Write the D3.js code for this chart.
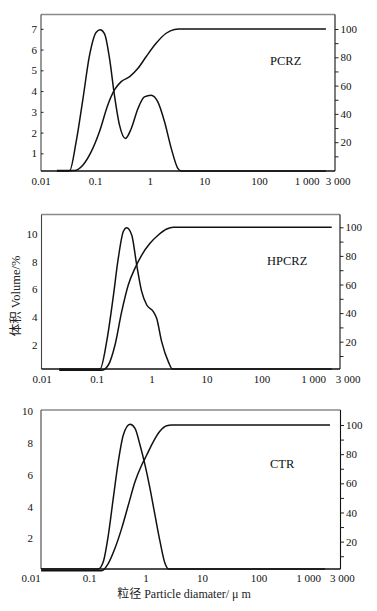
<!DOCTYPE html>
<html>
<head>
<meta charset="utf-8">
<script src="https://cdn.jsdelivr.net/npm/d3@7"></script>
<style>
body { margin: 0; background: #fff; }
svg { display: block; }
</style>
</head>
<body>
<div id="chart"></div>
<script>
// particle size distributions: frequency (volume %, left axis) + cumulative (%, right axis)
const pcrzFreqX = [0.02, 0.034, 0.045, 0.060, 0.079, 0.105, 0.124, 0.149, 0.184, 0.226, 0.28, 0.36, 0.46, 0.61, 0.80, 1.06, 1.41, 1.87, 2.48, 3.27, 3.78, 1690];
const pcrzFreqY = [0, 0, 1.56, 3.64, 5.72, 6.84, 6.95, 6.76, 5.56, 3.80, 2.36, 1.72, 2.20, 3.16, 3.72, 3.80, 3.48, 2.52, 1.24, 0.28, 0, 0];
const pcrzCumX = [0.02, 0.042, 0.060, 0.085, 0.12, 0.171, 0.226, 0.30, 0.43, 0.61, 0.86, 1.31, 2.0, 2.84, 3.4, 1690];
const pcrzCumY = [0, 0, 3.9, 13.3, 27.4, 46.3, 56.9, 62.8, 66.3, 72.2, 80.4, 89.9, 97.0, 99.7, 100, 100];

const hpcrzFreqX = [0.021, 0.116, 0.153, 0.20, 0.249, 0.307, 0.354, 0.437, 0.538, 0.664, 0.82, 1.08, 1.24, 1.53, 2.02, 2.39, 1890];
const hpcrzFreqY = [0, 0, 2.24, 5.37, 8.25, 10.17, 10.45, 9.93, 7.77, 5.84, 4.88, 4.40, 3.92, 2.24, 0.80, 0, 0];
const hpcrzCumX = [0.021, 0.124, 0.164, 0.217, 0.287, 0.378, 0.50, 0.664, 0.94, 1.33, 1.89, 2.49, 1890];
const hpcrzCumY = [0, 0, 3.7, 17.7, 41, 59.7, 71.3, 80.6, 88.8, 94.6, 98.8, 100, 100];

const ctrFreqX = [0.0142, 0.146, 0.179, 0.22, 0.269, 0.33, 0.405, 0.532, 0.652, 0.80, 0.98, 1.20, 1.47, 1.81, 2.21, 2.54, 1500];
const ctrFreqY = [0, 0, 0.53, 2.21, 4.52, 6.82, 8.49, 9.16, 8.91, 7.86, 6.61, 5.14, 3.47, 1.79, 0.43, 0, 0];
const ctrCumX = [0.0142, 0.168, 0.22, 0.288, 0.379, 0.497, 0.652, 0.857, 1.05, 1.37, 1.81, 2.37, 2.91, 1840];
const ctrCumY = [0, 0, 5.1, 15.4, 29.1, 45.1, 61.1, 72.6, 79.4, 88.5, 95.9, 99.5, 100, 100];

const xTickVals = [0.01, 0.1, 1, 10, 100, 1000, 3000];
const xTickText = ["0.01", "0.1", "1", "10", "100", "1 000", "3 000"];
const pcrzLeftTicks = [1, 2, 3, 4, 5, 6, 7];
const hpcrzLeftTicks = [2, 4, 6, 8, 10];
const ctrLeftTicks = [2, 4, 6, 8, 10];
const cumTicks = [10, 20, 30, 40, 50, 60, 70, 80, 90, 100];

const FONT = '"Liberation Serif", "Times New Roman", "Noto Sans CJK SC", serif';

const svg = d3.select('#chart').append('svg')
    .attr('width', 377)
    .attr('height', 611);

const panels = [
    {name: "PCRZ", fx: pcrzFreqX, fy: pcrzFreqY, cx: pcrzCumX, cy: pcrzCumY, leftTicks: pcrzLeftTicks,
     l: 41, r: 335, t: 14.5, b: 171, xr: [40.5, 313.5], yl: [0.15, 7.69], y0: 170.5, y100: 29,
     dx: [0, 0, 0, 0, 0, -7, -2], pad: 4, tick: 2.5, bpad: 6.5, nx: 270, ny: 65},
    {name: "HPCRZ", fx: hpcrzFreqX, fy: hpcrzFreqY, cx: hpcrzCumX, cy: hpcrzCumY, leftTicks: hpcrzLeftTicks,
     l: 41.5, r: 340, t: 214.5, b: 369, xr: [41.5, 316.5], yl: [0.27, 11.4], y0: 370.3, y100: 227.3,
     dx: [0, 0, 0, 0, 0, -3.5, 5], pad: 4, tick: 0, bpad: 6.5, nx: 267, ny: 265},
    {name: "CTR", fx: ctrFreqX, fy: ctrFreqY, cx: ctrCumX, cy: ctrCumY, leftTicks: ctrLeftTicks,
     l: 41, r: 340.5, t: 410, b: 569, xr: [32.5, 315], yl: [0.075, 10.06], y0: 570.8, y100: 425,
     dx: [-2, 0, 0, 0, 0, -7, 0], pad: 8, tick: 0, bpad: 5.5, nx: 270, ny: 468}
];

panels.forEach(drawPanel);

function drawPanel(p) {
    const g = svg.append('g');
    const x = d3.scaleLog().domain([0.01, 1000]).range(p.xr);
    const yL = d3.scaleLinear().domain(p.yl).range([p.b, p.t]).clamp(true);
    const yR = d3.scaleLinear().domain([0, 100]).range([p.y0, p.y100]).clamp(true);

    // frame
    g.append('line').attr('x1', p.l).attr('x2', p.r).attr('y1', p.t).attr('y2', p.t)
        .attr('stroke', '#8a8a8a').attr('stroke-width', 1.3);
    g.append('line').attr('x1', p.l).attr('x2', p.l).attr('y1', p.t).attr('y2', p.b)
        .attr('stroke', '#444').attr('stroke-width', 1.1);
    g.append('line').attr('x1', p.r).attr('x2', p.r).attr('y1', p.t).attr('y2', p.b)
        .attr('stroke', '#111').attr('stroke-width', 1.1);
    g.append('line').attr('x1', p.l).attr('x2', p.r).attr('y1', p.b).attr('y2', p.b)
        .attr('stroke', '#111').attr('stroke-width', 1.3);

    // left axis (volume %)
    const ga = g.append('g')
        .attr('transform', `translate(${p.l},0)`)
        .call(d3.axisLeft(yL).tickValues(p.leftTicks).tickSizeInner(-p.tick).tickSizeOuter(0)
            .tickPadding(p.pad).tickFormat(d3.format('d')));
    ga.select('.domain').remove();

    // right axis (cumulative %)
    const gr = g.append('g')
        .attr('transform', `translate(${p.r},0)`)
        .call(d3.axisRight(yR).tickValues(cumTicks).tickSizeInner(3.5).tickSizeOuter(0)
            .tickPadding(2).tickFormat(d => d % 20 === 0 ? d : ''));
    gr.select('.domain').remove();

    // bottom axis
    const gb = g.append('g')
        .attr('transform', `translate(0,${p.b})`)
        .call(d3.axisBottom(x).tickValues(xTickVals).tickSize(0).tickPadding(p.bpad)
            .tickFormat((d, i) => xTickText[i]));
    gb.select('.domain').remove();
    gb.selectAll('.tick text').attr('dx', (d, i) => p.dx[i]);

    [ga, gr, gb].forEach(a => {
        a.attr('font-family', FONT).attr('font-size', 11);
        a.selectAll('text').attr('fill', '#111');
        a.selectAll('line').attr('stroke', '#222');
    });

    const lineF = d3.line().x(d => x(d[0])).y(d => yL(d[1])).curve(d3.curveMonotoneX);
    const lineC = d3.line().x(d => x(d[0])).y(d => yR(d[1])).curve(d3.curveMonotoneX);

    g.append('path').datum(d3.zip(p.fx, p.fy))
        .attr('d', lineF).attr('fill', 'none').attr('stroke', '#111').attr('stroke-width', 1.5);
    g.append('path').datum(d3.zip(p.cx, p.cy))
        .attr('d', lineC).attr('fill', 'none').attr('stroke', '#111').attr('stroke-width', 1.5);

    g.append('text').text(p.name)
        .attr('x', p.nx).attr('y', p.ny)
        .attr('font-family', FONT).attr('font-size', 12.5).attr('fill', '#111');
}

svg.append('text')
    .text('体积 Volume/%')
    .attr('transform', 'translate(20,296) rotate(-90)')
    .attr('text-anchor', 'middle')
    .attr('font-family', FONT).attr('font-size', 12.5).attr('fill', '#222');

svg.append('text')
    .text('粒径 Particle diamater/ μ m')
    .attr('x', 184).attr('y', 598)
    .attr('text-anchor', 'middle')
    .attr('font-family', FONT).attr('font-size', 12).attr('fill', '#222');
</script>
</body>
</html>
